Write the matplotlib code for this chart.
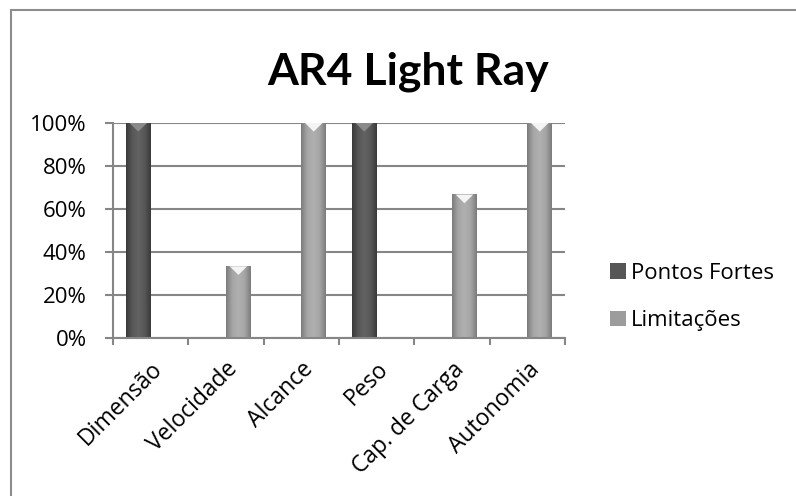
import matplotlib
matplotlib.use("Agg")
import matplotlib.pyplot as plt
import numpy as np
from matplotlib.patches import Rectangle, Polygon
from matplotlib.colors import LinearSegmentedColormap
from matplotlib.transforms import ScaledTranslation

categories = ["Dimensão", "Velocidade", "Alcance", "Peso", "Cap. de Carga", "Autonomia"]
pontos_fortes = [1.0, 0, 0, 1.0, 0, 0]
limitacoes = [0, 1/3, 1.0, 0, 2/3, 1.0]
series_names = ["Pontos Fortes", "Limitações"]
y_ticks = [0, 0.2, 0.4, 0.6, 0.8, 1.0]
y_labels = ["0%", "20%", "40%", "60%", "80%", "100%"]

FONT = "Open Sans"
fig = plt.figure(figsize=(7.96, 4.96), dpi=100)
fig.patch.set_facecolor("white")
ax = fig.add_axes([113/796, 1-338/496, (565-113)/796, (338-123)/496])

x = np.arange(len(categories))
w = 0.33
dark_c = "#565656"
light_c = "#9c9c9c"
b1 = ax.bar(x - w/2, pontos_fortes, w, color=dark_c, label=series_names[0], zorder=3)
b2 = ax.bar(x + w/2, limitacoes, w, color=light_c, label=series_names[1], zorder=3)

dark_cmap = LinearSegmentedColormap.from_list("d", ["#3a3a3a", "#585858", "#626262", "#585858", "#3a3a3a"])
light_cmap = LinearSegmentedColormap.from_list("l", ["#7c7c7c", "#a6a6a6", "#b0b0b0", "#a6a6a6", "#7c7c7c"])
grad = np.linspace(0, 1, 64).reshape(1, -1)
for bars, cmap, tipc in [(b1, dark_cmap, "#8a8a8a"), (b2, light_cmap, "#f4f4f4")]:
    for p in bars:
        h = p.get_height()
        if h <= 0:
            continue
        x0 = p.get_x(); bw = p.get_width()
        ax.imshow(grad, cmap=cmap, aspect="auto", extent=[x0, x0 + bw, 0, h], zorder=3.5,
                  interpolation="bilinear")
        d = 0.04
        ax.add_patch(Polygon([[x0 + bw*0.15, h], [x0 + bw*0.85, h], [x0 + bw*0.5, h - d]],
                             closed=True, color=tipc, zorder=4, lw=0))

ax.set_xlim(-0.5, len(categories) - 0.5)
ax.set_ylim(0, 1.0)
ax.set_yticks(y_ticks)
ax.set_yticklabels(y_labels, fontsize=16, family=FONT)
ax.set_xticks(x)
ax.set_xticklabels(categories, rotation=45, ha="right", rotation_mode="anchor", fontsize=16.5, family=FONT)
for lab in ax.get_xticklabels():
    lab.set_transform(lab.get_transform() + ScaledTranslation(3/100, 0, fig.dpi_scale_trans))
ax.set_xticks(np.arange(len(categories) + 1) - 0.5, minor=True)
ax.tick_params(axis="x", which="major", length=0, pad=14)
ax.tick_params(axis="x", which="minor", length=5, width=1.5, color="#868686")
ax.tick_params(axis="y", length=6, width=1.5, color="#868686", pad=13)
for s in ["top", "right"]:
    ax.spines[s].set_visible(False)
for s in ["left", "bottom"]:
    ax.spines[s].set_color("#868686")
    ax.spines[s].set_linewidth(1.5)
    ax.spines[s].set_zorder(5)
ax.yaxis.grid(True, color="#868686", lw=1.5, zorder=1)
ax.set_axisbelow(True)

fig.text(408/796, 1-72/496, "AR4 Light Ray", ha="center", va="center", fontsize=32,
         fontweight="bold", family="Lato")

leg = ax.legend(handles=[b1, b2], loc="center left", bbox_to_anchor=(590/796, 1-297/496),
                bbox_transform=fig.transFigure, frameon=False, prop={"family": FONT, "size": 16},
                handlelength=0.7, handleheight=0.7, handletextpad=0.25, labelspacing=1.2)

fig.add_artist(Rectangle((11/796, -0.5), 2, 0.5 + 1 - 10/496, transform=fig.transFigure,
                         fill=False, edgecolor="#8c8c8c", lw=1.5))

fig.savefig("out.png", dpi=100)
